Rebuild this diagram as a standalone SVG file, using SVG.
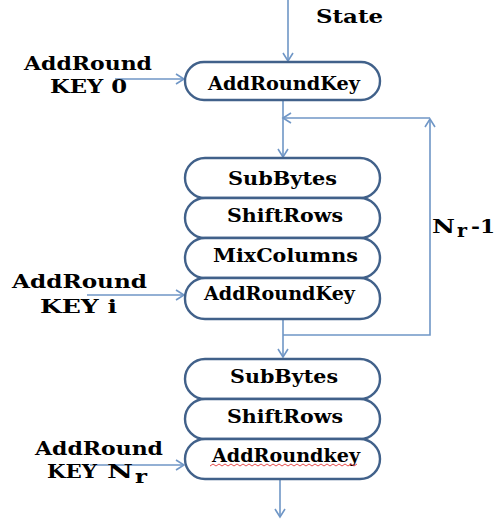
<svg xmlns="http://www.w3.org/2000/svg" width="496" height="519" viewBox="0 0 496 519">
<style>
.box{fill:#fff;stroke:#41618a;stroke-width:2.4}
.t{font-family:"DejaVu Serif","Liberation Serif",serif;font-weight:bold;font-size:18px;fill:#000}
.c{fill:none;stroke:#6f96c6;stroke-width:1.6}
</style>
<defs>
<marker id="ah" markerWidth="12" markerHeight="12" refX="10" refY="6" orient="auto" markerUnits="userSpaceOnUse">
<path d="M2,1 L10,6 L2,11" fill="none" stroke="#6f96c6" stroke-width="1.6"/>
</marker>
</defs>
<rect width="496" height="519" fill="#fff"/>
<g id="connectors">
<path class="c" d="M288,0 V61" marker-end="url(#ah)"/>
<path class="c" d="M115,79 H184" marker-end="url(#ah)"/>
<path class="c" d="M283,100 V157" marker-end="url(#ah)"/>
<path class="c" d="M283,335 H430 V119" marker-end="url(#ah)"/>
<path class="c" d="M430,118 H283" marker-end="url(#ah)"/>
<path class="c" d="M87,295 H184" marker-end="url(#ah)"/>
<path class="c" d="M283,319 V357" marker-end="url(#ah)"/>
<path class="c" d="M90,465 H184" marker-end="url(#ah)"/>
<path class="c" d="M280,479 V517" marker-end="url(#ah)"/>
</g>
<g id="state"><text class="t" x="316" y="23" textLength="67" lengthAdjust="spacingAndGlyphs">State</text></g>
<g id="key0">
<text class="t" x="24" y="70" textLength="128" lengthAdjust="spacingAndGlyphs">AddRound</text>
<text class="t" x="50" y="93" textLength="77" lengthAdjust="spacingAndGlyphs">KEY 0</text>
</g>
<g id="ark0"><rect class="box" x="185" y="62" width="195" height="38" rx="19"/>
<text class="t" x="208" y="90" textLength="152" lengthAdjust="spacingAndGlyphs">AddRoundKey</text></g>
<g id="sb1"><rect class="box" x="185" y="158" width="195" height="40" rx="20"/>
<text class="t" x="228" y="185" textLength="109" lengthAdjust="spacingAndGlyphs">SubBytes</text></g>
<g id="sr1"><rect class="box" x="185" y="198" width="195" height="40" rx="20"/>
<text class="t" x="227" y="222" textLength="116" lengthAdjust="spacingAndGlyphs">ShiftRows</text></g>
<g id="mc1"><rect class="box" x="185" y="238" width="195" height="40" rx="20"/>
<text class="t" x="213" y="262" textLength="145" lengthAdjust="spacingAndGlyphs">MixColumns</text></g>
<g id="ark1"><rect class="box" x="185" y="278" width="195" height="41" rx="20"/>
<text class="t" x="204" y="300" textLength="151" lengthAdjust="spacingAndGlyphs">AddRoundKey</text></g>
<g id="keyi">
<text class="t" x="12" y="288" textLength="135" lengthAdjust="spacingAndGlyphs">AddRound</text>
<text class="t" x="40" y="313" textLength="77" lengthAdjust="spacingAndGlyphs">KEY i</text>
</g>
<g id="loop-label">
<text class="t" x="432" y="233" textLength="23" lengthAdjust="spacingAndGlyphs">N</text>
<text class="t" x="457" y="237" font-size="13" textLength="10" lengthAdjust="spacingAndGlyphs">r</text>
<text class="t" x="471" y="233" textLength="24" lengthAdjust="spacingAndGlyphs">-1</text>
</g>
<g id="sb2"><rect class="box" x="185" y="359" width="195" height="40" rx="20"/>
<text class="t" x="230" y="383" textLength="108" lengthAdjust="spacingAndGlyphs">SubBytes</text></g>
<g id="sr2"><rect class="box" x="185" y="399" width="195" height="40" rx="20"/>
<text class="t" x="227" y="423" textLength="116" lengthAdjust="spacingAndGlyphs">ShiftRows</text></g>
<g id="ark2"><rect class="box" x="185" y="439" width="195" height="40" rx="20"/>
<text class="t" x="212" y="462" textLength="148" lengthAdjust="spacingAndGlyphs">AddRoundkey</text>
<path d="M210,466 l3,-2 l3,2 l3,-2 l3,2 l3,-2 l3,2 l3,-2 l3,2 l3,-2 l3,2 l3,-2 l3,2 l3,-2 l3,2 l3,-2 l3,2 l3,-2 l3,2 l3,-2 l3,2 l3,-2 l3,2 l3,-2 l3,2 l3,-2 l3,2 l3,-2 l3,2 l3,-2 l3,2 l3,-2 l3,2 l3,-2 l3,2 l3,-2 l3,2 l3,-2 l3,2 l3,-2 l3,2 l3,-2 l3,2 l3,-2 l3,2 l3,-2 l3,2 l3,-2 l3,2 l3,-2" fill="none" stroke="#e02020" stroke-width="0.8"/></g>
<g id="keynr">
<text class="t" x="35" y="455" textLength="128" lengthAdjust="spacingAndGlyphs">AddRound</text>
<text class="t" x="47" y="478" textLength="50" lengthAdjust="spacingAndGlyphs">KEY</text>
<text class="t" x="107" y="478" textLength="26" lengthAdjust="spacingAndGlyphs">N</text>
<text class="t" x="135" y="483" font-size="13" textLength="12" lengthAdjust="spacingAndGlyphs">r</text>
</g>
</svg>
